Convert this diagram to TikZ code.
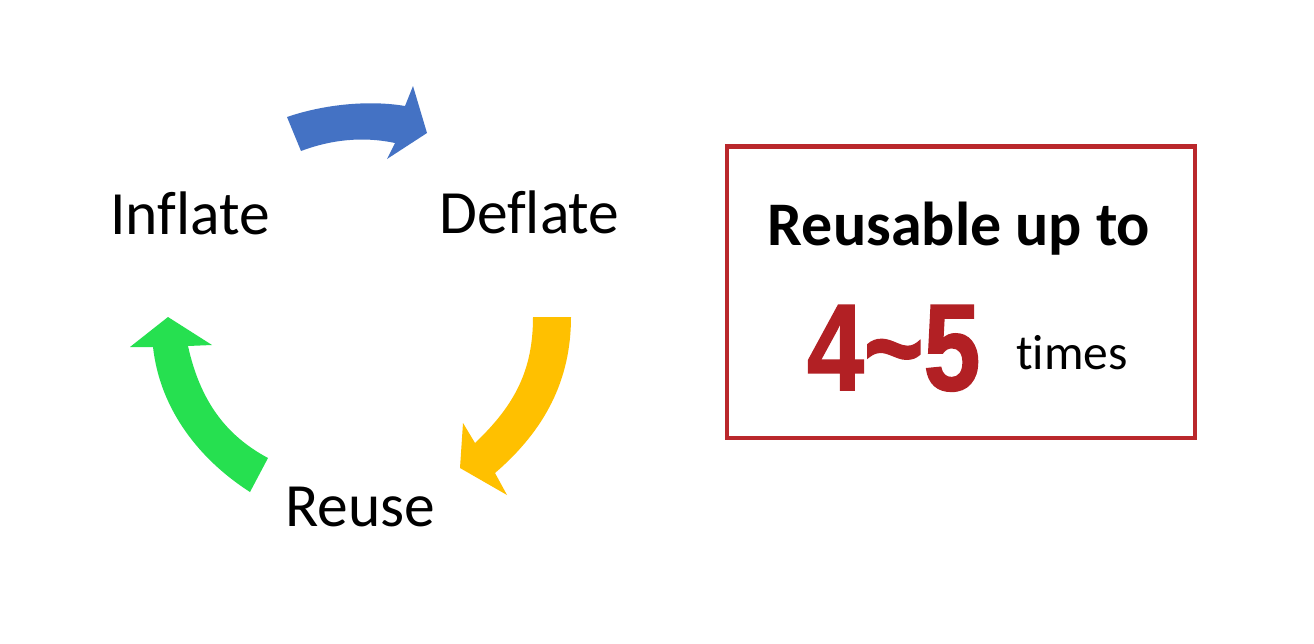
\documentclass[tikz,border=0pt]{standalone}
\usepackage{fontspec}
\setmainfont[Ligatures=NoCommon]{Carlito}
\newfontfamily\digitfont[FakeBold=1.5]{Liberation Sans}
\definecolor{arrowblue}{RGB}{68,114,196}
\definecolor{arrowyellow}{RGB}{255,192,0}
\definecolor{arrowgreen}{RGB}{38,224,80}
\definecolor{boxred}{RGB}{186,40,44}
\definecolor{numred}{RGB}{178,32,36}
\tikzset{
  lbl/.style={anchor=base west, inner sep=0pt, font=\fontsize{61.5}{72}\selectfont}
}
\begin{document}
\begin{tikzpicture}[x=1pt,y=-1pt]
\useasboundingbox (0,0) rectangle (1314,643);
\fill[white] (0,0) rectangle (1314,643);
% blue arrow
\fill[arrowblue] (287,117) .. controls (325,104) and (370,100) .. (405,106)
  -- (413,86) -- (427,133) -- (387,159) -- (395,143)
  .. controls (362,136) and (330,140) .. (301,151) -- cycle;
% yellow arrow
\fill[arrowyellow] (533,317) -- (571,317)
  .. controls (571,380) and (545,430) .. (495,473)
  -- (507,495) -- (460,468) -- (463,423) -- (475,443)
  .. controls (515,405) and (533,370) .. cycle;
% green arrow
\fill[arrowgreen] (168,317) -- (212,345) -- (188,346)
  .. controls (200,400) and (225,435) .. (268,458)
  -- (250,492) .. controls (200,460) and (160,410) .. (153,347)
  -- (130,347) -- cycle;
% labels
\node[lbl] (inflate) at (110,234) {Inflate};
\node[lbl] (deflate) at (439,233) {Deflate};
\node[lbl] (reuse) at (285,526) {Reuse};
% box
\draw[boxred, line width=4.5pt] (727,146.5) rectangle (1195,438);
\node[anchor=base, inner sep=0pt, font=\fontsize{62}{72}\selectfont\bfseries] (reusable) at (959,245) {Reusable up to};
\node[anchor=base west, inner sep=0pt, text=numred] (num) at (807,390) {\scalebox{0.83}[1]{\fontsize{123}{130}\selectfont\digitfont\bfseries 4\char`\~5}};
\node[anchor=base west, inner sep=0pt, font=\fontsize{49.5}{58}\selectfont] (times) at (1016,369) {times};
\end{tikzpicture}
\end{document}
